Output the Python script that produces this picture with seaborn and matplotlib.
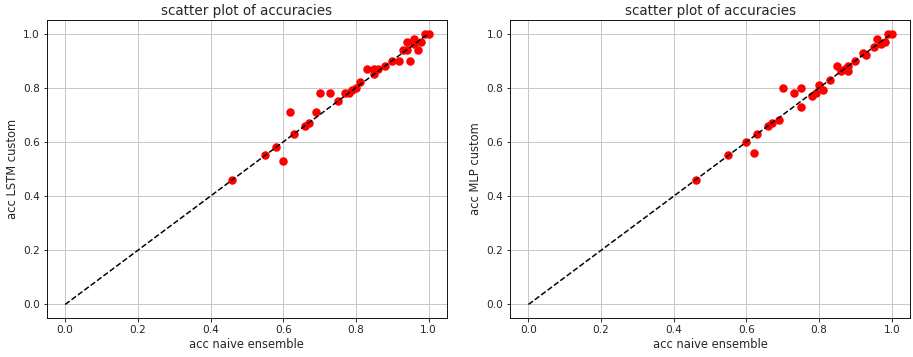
import numpy as np
import pandas as pd
import matplotlib
matplotlib.use("Agg")
import matplotlib.pyplot as plt
import seaborn as sns

# accuracy of the naive ensemble vs. the custom LSTM model
lstm_naive = [0.46, 0.55, 0.58, 0.60, 0.62, 0.63, 0.66, 0.67, 0.69, 0.70,
              0.73, 0.75, 0.77, 0.78, 0.79, 0.80, 0.81, 0.83, 0.85, 0.85,
              0.86, 0.88, 0.90, 0.92, 0.93, 0.94, 0.95, 0.94, 0.96, 0.97,
              0.96, 0.98, 0.99, 1.00]
lstm_custom = [0.46, 0.55, 0.58, 0.53, 0.71, 0.63, 0.66, 0.67, 0.71, 0.78,
               0.78, 0.75, 0.78, 0.78, 0.79, 0.80, 0.82, 0.87, 0.85, 0.87,
               0.87, 0.88, 0.90, 0.90, 0.94, 0.94, 0.90, 0.97, 0.98, 0.94,
               0.96, 0.97, 1.00, 1.00]

# accuracy of the naive ensemble vs. the custom MLP model
mlp_naive = [0.46, 0.55, 0.60, 0.62, 0.63, 0.66, 0.67, 0.69, 0.70, 0.73,
             0.75, 0.75, 0.78, 0.79, 0.80, 0.81, 0.83, 0.85, 0.86, 0.87,
             0.88, 0.88, 0.90, 0.92, 0.93, 0.95, 0.96, 0.97, 0.98, 0.99,
             1.00]
mlp_custom = [0.46, 0.55, 0.60, 0.56, 0.63, 0.66, 0.67, 0.68, 0.80, 0.78,
              0.80, 0.73, 0.77, 0.78, 0.81, 0.79, 0.83, 0.88, 0.86, 0.87,
              0.88, 0.86, 0.90, 0.93, 0.92, 0.95, 0.98, 0.96, 0.97, 1.00,
              1.00]

diagonal = [0.0, 1.0]

panels = [
    ("acc LSTM custom", lstm_naive, lstm_custom),
    ("acc MLP custom", mlp_naive, mlp_custom),
]

sns.set_style("ticks")
plt.rcParams["font.family"] = ["DejaVu Sans"]
plt.rcParams["axes.edgecolor"] = "black"

fig, axes = plt.subplots(1, 2, figsize=(913 / 72, 357 / 72), dpi=72)
fig.subplots_adjust(left=47 / 913, right=910 / 913, bottom=1 - 318 / 357,
                    top=1 - 20 / 357, wspace=0.159)

for ax, (ylabel, xs, ys) in zip(axes, panels):
    df = pd.DataFrame({"naive": xs, "custom": ys})
    sns.scatterplot(data=df, x="naive", y="custom", ax=ax, color="red",
                    s=72, linewidth=0, alpha=1.0, zorder=2)
    line = pd.DataFrame({"x": diagonal, "y": diagonal})
    sns.lineplot(data=line, x="x", y="y", ax=ax, color="black",
                 linestyle="--", linewidth=1.5, zorder=3)
    ax.set_xlim(-0.05, 1.05)
    ax.set_ylim(-0.05, 1.05)
    ax.set_xticks(np.arange(0, 1.01, 0.2))
    ax.set_yticks(np.arange(0, 1.01, 0.2))
    ax.grid(True, color="#c8c8c8", linewidth=1.0)
    ax.set_axisbelow(True)
    ax.set_title("scatter plot of accuracies", fontsize=13.5, pad=5)
    ax.set_xlabel("acc naive ensemble", fontsize=11.5, labelpad=3)
    ax.set_ylabel(ylabel, fontsize=11.5, labelpad=4)
    ax.tick_params(labelsize=10.5, length=3.5, width=0.8, color="black")
    for sp in ax.spines.values():
        sp.set_visible(True)
        sp.set_linewidth(0.9)
        sp.set_color("black")

fig.savefig("out.png", dpi=72)
